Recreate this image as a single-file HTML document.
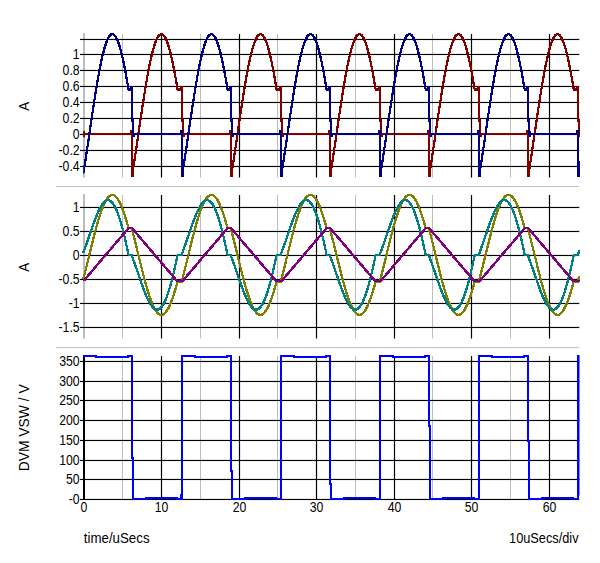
<!DOCTYPE html>
<html><head><meta charset="utf-8"><title>chart</title>
<style>
html,body{margin:0;padding:0;background:#fff;}
body{width:600px;height:563px;overflow:hidden;}
svg{display:block;}
svg text{font-family:"Liberation Sans",sans-serif;font-size:14.0px;fill:#000;}
</style></head><body>
<svg width="600" height="563" viewBox="0 0 600 563">
<rect width="600" height="563" fill="#fff"/>
<defs><clipPath id="c1"><rect x="83.4" y="0" width="496.6" height="563"/></clipPath><clipPath id="c3"><rect x="83" y="0" width="496.29999999999995" height="563"/></clipPath></defs>
<rect x="56" y="185.9" width="523.3" height="1.2" fill="#c6c6c6"/>
<rect x="56" y="346.9" width="523.3" height="1.2" fill="#c6c6c6"/>
<rect x="83" y="33" width="2" height="144.5" fill="#bcbcbc"/>
<rect x="122.00" y="34" width="1" height="143.5" fill="#bdbdbd"/>
<rect x="160.90" y="34" width="1.2" height="143.5" fill="#000"/>
<rect x="200.00" y="34" width="1" height="143.5" fill="#bdbdbd"/>
<rect x="238.90" y="34" width="1.2" height="143.5" fill="#000"/>
<rect x="277.00" y="34" width="1" height="143.5" fill="#bdbdbd"/>
<rect x="315.90" y="34" width="1.2" height="143.5" fill="#000"/>
<rect x="355.00" y="34" width="1" height="143.5" fill="#bdbdbd"/>
<rect x="393.90" y="34" width="1.2" height="143.5" fill="#000"/>
<rect x="432.00" y="34" width="1" height="143.5" fill="#bdbdbd"/>
<rect x="470.90" y="34" width="1.2" height="143.5" fill="#000"/>
<rect x="510.00" y="34" width="1" height="143.5" fill="#bdbdbd"/>
<rect x="548.90" y="34" width="1.2" height="143.5" fill="#000"/>
<rect x="80" y="38.9" width="499.29999999999995" height="1.15" fill="#000"/>
<rect x="80" y="53.9" width="499.29999999999995" height="1.15" fill="#000"/>
<text transform="translate(79.6,59.35) scale(0.875,1)" text-anchor="end">1</text>
<rect x="80" y="69.9" width="499.29999999999995" height="1.15" fill="#000"/>
<text transform="translate(79.6,75.35) scale(0.875,1)" text-anchor="end">0.8</text>
<rect x="80" y="85.9" width="499.29999999999995" height="1.15" fill="#000"/>
<text transform="translate(79.6,91.35) scale(0.875,1)" text-anchor="end">0.6</text>
<rect x="80" y="101.9" width="499.29999999999995" height="1.15" fill="#000"/>
<text transform="translate(79.6,107.35) scale(0.875,1)" text-anchor="end">0.4</text>
<rect x="80" y="117.9" width="499.29999999999995" height="1.15" fill="#000"/>
<text transform="translate(79.6,123.35) scale(0.875,1)" text-anchor="end">0.2</text>
<rect x="80" y="133.9" width="499.29999999999995" height="1.15" fill="#000"/>
<text transform="translate(79.6,139.35) scale(0.875,1)" text-anchor="end">0</text>
<rect x="80" y="149.9" width="499.29999999999995" height="1.15" fill="#000"/>
<text transform="translate(79.6,155.35) scale(0.875,1)" text-anchor="end">-0.2</text>
<rect x="80" y="165.9" width="499.29999999999995" height="1.15" fill="#000"/>
<text transform="translate(79.6,171.35) scale(0.875,1)" text-anchor="end">-0.4</text>
<rect x="83" y="194" width="2" height="144.5" fill="#bcbcbc"/>
<rect x="122.00" y="195" width="1" height="143.5" fill="#bdbdbd"/>
<rect x="160.90" y="195" width="1.2" height="143.5" fill="#000"/>
<rect x="200.00" y="195" width="1" height="143.5" fill="#bdbdbd"/>
<rect x="238.90" y="195" width="1.2" height="143.5" fill="#000"/>
<rect x="277.00" y="195" width="1" height="143.5" fill="#bdbdbd"/>
<rect x="315.90" y="195" width="1.2" height="143.5" fill="#000"/>
<rect x="355.00" y="195" width="1" height="143.5" fill="#bdbdbd"/>
<rect x="393.90" y="195" width="1.2" height="143.5" fill="#000"/>
<rect x="432.00" y="195" width="1" height="143.5" fill="#bdbdbd"/>
<rect x="470.90" y="195" width="1.2" height="143.5" fill="#000"/>
<rect x="510.00" y="195" width="1" height="143.5" fill="#bdbdbd"/>
<rect x="548.90" y="195" width="1.2" height="143.5" fill="#000"/>
<rect x="80" y="206.9" width="499.29999999999995" height="1.15" fill="#000"/>
<text transform="translate(79.6,212.35) scale(0.875,1)" text-anchor="end">1</text>
<rect x="80" y="230.9" width="499.29999999999995" height="1.15" fill="#000"/>
<text transform="translate(79.6,236.35) scale(0.875,1)" text-anchor="end">0.5</text>
<rect x="80" y="254.9" width="499.29999999999995" height="1.15" fill="#000"/>
<text transform="translate(79.6,260.35) scale(0.875,1)" text-anchor="end">0</text>
<rect x="80" y="278.9" width="499.29999999999995" height="1.15" fill="#000"/>
<text transform="translate(79.6,284.35) scale(0.875,1)" text-anchor="end">-0.5</text>
<rect x="80" y="302.9" width="499.29999999999995" height="1.15" fill="#000"/>
<text transform="translate(79.6,308.35) scale(0.875,1)" text-anchor="end">-1</text>
<rect x="80" y="326.9" width="499.29999999999995" height="1.15" fill="#000"/>
<text transform="translate(79.6,332.35) scale(0.875,1)" text-anchor="end">-1.5</text>
<rect x="122.00" y="356" width="1" height="143.5" fill="#bdbdbd"/>
<rect x="160.90" y="356" width="1.2" height="143.5" fill="#000"/>
<rect x="200.00" y="356" width="1" height="143.5" fill="#bdbdbd"/>
<rect x="238.90" y="356" width="1.2" height="143.5" fill="#000"/>
<rect x="277.00" y="356" width="1" height="143.5" fill="#bdbdbd"/>
<rect x="315.90" y="356" width="1.2" height="143.5" fill="#000"/>
<rect x="355.00" y="356" width="1" height="143.5" fill="#bdbdbd"/>
<rect x="393.90" y="356" width="1.2" height="143.5" fill="#000"/>
<rect x="432.00" y="356" width="1" height="143.5" fill="#bdbdbd"/>
<rect x="470.90" y="356" width="1.2" height="143.5" fill="#000"/>
<rect x="510.00" y="356" width="1" height="143.5" fill="#bdbdbd"/>
<rect x="548.90" y="356" width="1.2" height="143.5" fill="#000"/>
<rect x="80" y="360.9" width="499.29999999999995" height="1.15" fill="#000"/>
<text transform="translate(79.6,366.35) scale(0.875,1)" text-anchor="end">350</text>
<rect x="80" y="380.9" width="499.29999999999995" height="1.15" fill="#000"/>
<text transform="translate(79.6,386.35) scale(0.875,1)" text-anchor="end">300</text>
<rect x="80" y="399.9" width="499.29999999999995" height="1.15" fill="#000"/>
<text transform="translate(79.6,405.35) scale(0.875,1)" text-anchor="end">250</text>
<rect x="80" y="419.9" width="499.29999999999995" height="1.15" fill="#000"/>
<text transform="translate(79.6,425.35) scale(0.875,1)" text-anchor="end">200</text>
<rect x="80" y="439.9" width="499.29999999999995" height="1.15" fill="#000"/>
<text transform="translate(79.6,445.35) scale(0.875,1)" text-anchor="end">150</text>
<rect x="80" y="459.9" width="499.29999999999995" height="1.15" fill="#000"/>
<text transform="translate(79.6,465.35) scale(0.875,1)" text-anchor="end">100</text>
<rect x="80" y="478.9" width="499.29999999999995" height="1.15" fill="#000"/>
<text transform="translate(79.6,484.35) scale(0.875,1)" text-anchor="end">50</text>
<rect x="80" y="498.9" width="499.29999999999995" height="1.15" fill="#000"/>
<text transform="translate(79.6,504.35) scale(0.875,1)" text-anchor="end">-0</text>
<rect x="83.2" y="130.8" width="1.8" height="6.6" fill="#800000"/>
<g fill="none" stroke="#800000" stroke-width="1.1" stroke-linejoin="miter" stroke-linecap="square" shape-rendering="crispEdges" clip-path="url(#c1)">
<path id="w1" d="M82.0,134.0L131.3,134.0L131.3,130.8L131.8,130.8L131.8,175.6L132.5,175.6L132.5,173.1L133.0,169.9L133.5,166.7L134.0,163.5L134.5,160.2L135.0,156.9L135.5,153.6L136.0,150.2L136.5,146.8L137.0,143.4L137.5,140.0L138.0,136.6L138.5,133.2L139.0,129.8L139.5,126.4L140.0,123.0L140.5,119.6L141.0,116.3L141.5,112.9L142.0,109.6L142.5,106.3L143.0,103.0L143.5,99.8L144.0,96.6L144.5,93.5L145.0,90.4L145.5,87.3L146.0,84.4L146.5,81.4L147.0,78.6L147.5,75.7L148.0,73.0L148.5,70.3L149.0,67.8L149.5,65.2L150.0,62.8L150.5,60.5L151.0,58.2L151.5,56.0L152.0,53.9L152.5,52.0L153.0,50.1L153.5,48.3L154.0,46.6L154.5,45.0L155.0,43.5L155.5,42.1L156.0,40.8L156.5,39.7L157.0,38.6L157.5,37.7L158.0,36.8L158.5,36.1L159.0,35.5L159.5,35.0L160.0,34.7L160.5,34.4L161.0,34.3L161.5,34.2L162.0,34.3L162.5,34.5L163.0,34.9L163.5,35.3L164.0,35.9L164.5,36.5L165.0,37.3L165.5,38.2L166.0,39.2L166.5,40.4L167.0,41.6L167.5,42.9L168.0,44.4L168.5,45.9L169.0,47.6L169.5,49.3L170.0,51.2L170.5,53.1L171.0,55.2L171.5,57.3L172.0,59.5L172.5,61.9L173.0,64.3L173.5,66.7L174.0,69.3L174.5,71.9L175.0,74.6L175.5,77.4L176.0,80.3L176.5,83.2L177.0,86.1L177.5,89.2L177.6,89.5L181.1,89.5L181.1,86.7L181.9,86.7L181.9,120.5L183.0,120.5L183.3,134.0L183.5,136.4L184.1,136.4L184.1,134.0L230.4,134.0L230.4,134.0L230.4,130.8L230.9,130.8L230.9,175.6L231.6,175.6L231.6,173.1L232.1,169.9L232.6,166.7L233.1,163.5L233.6,160.2L234.1,156.9L234.6,153.6L235.1,150.2L235.6,146.8L236.1,143.4L236.6,140.0L237.1,136.6L237.6,133.2L238.1,129.8L238.6,126.4L239.1,123.0L239.6,119.6L240.1,116.3L240.6,112.9L241.1,109.6L241.6,106.3L242.1,103.0L242.6,99.8L243.1,96.6L243.6,93.5L244.1,90.4L244.6,87.3L245.1,84.4L245.6,81.4L246.1,78.6L246.6,75.7L247.1,73.0L247.6,70.3L248.1,67.8L248.6,65.2L249.1,62.8L249.6,60.5L250.1,58.2L250.6,56.0L251.1,53.9L251.6,52.0L252.1,50.1L252.6,48.3L253.1,46.6L253.6,45.0L254.1,43.5L254.6,42.1L255.1,40.8L255.6,39.7L256.1,38.6L256.6,37.7L257.1,36.8L257.6,36.1L258.1,35.5L258.6,35.0L259.1,34.7L259.6,34.4L260.1,34.3L260.6,34.2L261.1,34.3L261.6,34.5L262.1,34.9L262.6,35.3L263.1,35.9L263.6,36.5L264.1,37.3L264.6,38.2L265.1,39.2L265.6,40.4L266.1,41.6L266.6,42.9L267.1,44.4L267.6,45.9L268.1,47.6L268.6,49.3L269.1,51.2L269.6,53.1L270.1,55.2L270.6,57.3L271.1,59.5L271.6,61.9L272.1,64.3L272.6,66.7L273.1,69.3L273.6,71.9L274.1,74.6L274.6,77.4L275.1,80.3L275.6,83.2L276.1,86.1L276.6,89.2L276.6,89.5L280.2,89.5L280.2,86.7L280.9,86.7L280.9,120.5L282.1,120.5L282.4,134.0L282.6,136.4L283.2,136.4L283.2,134.0L329.4,134.0L329.4,134.0L329.4,130.8L329.9,130.8L329.9,175.6L330.6,175.6L330.6,173.1L331.1,169.9L331.6,166.7L332.1,163.5L332.6,160.2L333.1,156.9L333.6,153.6L334.1,150.2L334.6,146.8L335.1,143.4L335.6,140.0L336.1,136.6L336.6,133.2L337.1,129.8L337.6,126.4L338.1,123.0L338.6,119.6L339.1,116.3L339.6,112.9L340.1,109.6L340.6,106.3L341.1,103.0L341.6,99.8L342.1,96.6L342.6,93.5L343.1,90.4L343.6,87.3L344.1,84.4L344.6,81.4L345.1,78.6L345.6,75.7L346.1,73.0L346.6,70.3L347.1,67.8L347.6,65.2L348.1,62.8L348.6,60.5L349.1,58.2L349.6,56.0L350.1,53.9L350.6,52.0L351.1,50.1L351.6,48.3L352.1,46.6L352.6,45.0L353.1,43.5L353.6,42.1L354.1,40.8L354.6,39.7L355.1,38.6L355.6,37.7L356.1,36.8L356.6,36.1L357.1,35.5L357.6,35.0L358.1,34.7L358.6,34.4L359.1,34.3L359.6,34.2L360.1,34.3L360.6,34.5L361.1,34.9L361.6,35.3L362.1,35.9L362.6,36.5L363.1,37.3L363.6,38.2L364.1,39.2L364.6,40.4L365.1,41.6L365.6,42.9L366.1,44.4L366.6,45.9L367.1,47.6L367.6,49.3L368.1,51.2L368.6,53.1L369.1,55.2L369.6,57.3L370.1,59.5L370.6,61.9L371.1,64.3L371.6,66.7L372.1,69.3L372.6,71.9L373.1,74.6L373.6,77.4L374.1,80.3L374.6,83.2L375.1,86.1L375.6,89.2L375.7,89.5L379.2,89.5L379.2,86.7L380.0,86.7L380.0,120.5L381.1,120.5L381.4,134.0L381.6,136.4L382.2,136.4L382.2,134.0L428.5,134.0L428.4,134.0L428.4,130.8L428.9,130.8L428.9,175.6L429.6,175.6L429.6,173.1L430.1,169.9L430.6,166.7L431.1,163.5L431.6,160.2L432.1,156.9L432.6,153.6L433.1,150.2L433.6,146.8L434.1,143.4L434.6,140.0L435.1,136.6L435.6,133.2L436.1,129.8L436.6,126.4L437.1,123.0L437.6,119.6L438.1,116.3L438.6,112.9L439.1,109.6L439.6,106.3L440.1,103.0L440.6,99.8L441.1,96.6L441.6,93.5L442.1,90.4L442.6,87.3L443.1,84.4L443.6,81.4L444.1,78.6L444.6,75.7L445.1,73.0L445.6,70.3L446.1,67.8L446.6,65.2L447.1,62.8L447.6,60.5L448.1,58.2L448.6,56.0L449.1,53.9L449.6,52.0L450.1,50.1L450.6,48.3L451.1,46.6L451.6,45.0L452.1,43.5L452.6,42.1L453.1,40.8L453.6,39.7L454.1,38.6L454.6,37.7L455.1,36.8L455.6,36.1L456.1,35.5L456.6,35.0L457.1,34.7L457.6,34.4L458.1,34.3L458.6,34.2L459.1,34.3L459.6,34.5L460.1,34.9L460.6,35.3L461.1,35.9L461.6,36.5L462.1,37.3L462.6,38.2L463.1,39.2L463.6,40.4L464.1,41.6L464.6,42.9L465.1,44.4L465.6,45.9L466.1,47.6L466.6,49.3L467.1,51.2L467.6,53.1L468.1,55.2L468.6,57.3L469.1,59.5L469.6,61.9L470.1,64.3L470.6,66.7L471.1,69.3L471.6,71.9L472.1,74.6L472.6,77.4L473.1,80.3L473.6,83.2L474.1,86.1L474.6,89.2L474.7,89.5L478.2,89.5L478.2,86.7L479.0,86.7L479.0,120.5L480.1,120.5L480.4,134.0L480.6,136.4L481.2,136.4L481.2,134.0L527.5,134.0L527.5,134.0L527.5,130.8L528.0,130.8L528.0,175.6L528.7,175.6L528.7,173.1L529.2,169.9L529.7,166.7L530.2,163.5L530.7,160.2L531.2,156.9L531.7,153.6L532.2,150.2L532.7,146.8L533.2,143.4L533.7,140.0L534.2,136.6L534.7,133.2L535.2,129.8L535.7,126.4L536.2,123.0L536.7,119.6L537.2,116.3L537.7,112.9L538.2,109.6L538.7,106.3L539.2,103.0L539.7,99.8L540.2,96.6L540.7,93.5L541.2,90.4L541.7,87.3L542.2,84.4L542.7,81.4L543.2,78.6L543.7,75.7L544.2,73.0L544.7,70.3L545.2,67.8L545.7,65.2L546.2,62.8L546.7,60.5L547.2,58.2L547.7,56.0L548.2,53.9L548.7,52.0L549.2,50.1L549.7,48.3L550.2,46.6L550.7,45.0L551.2,43.5L551.7,42.1L552.2,40.8L552.7,39.7L553.2,38.6L553.7,37.7L554.2,36.8L554.7,36.1L555.2,35.5L555.7,35.0L556.2,34.7L556.7,34.4L557.2,34.3L557.7,34.2L558.2,34.3L558.7,34.5L559.2,34.9L559.7,35.3L560.2,35.9L560.7,36.5L561.2,37.3L561.7,38.2L562.2,39.2L562.7,40.4L563.2,41.6L563.7,42.9L564.2,44.4L564.7,45.9L565.2,47.6L565.7,49.3L566.2,51.2L566.7,53.1L567.2,55.2L567.7,57.3L568.2,59.5L568.7,61.9L569.2,64.3L569.7,66.7L570.2,69.3L570.7,71.9L571.2,74.6L571.7,77.4L572.2,80.3L572.7,83.2L573.2,86.1L573.7,89.2L573.8,89.5L577.3,89.5L577.3,86.7L578.1,86.7L578.1,120.5L579.2,120.5L579.5,134.0L579.7,136.4L580.3,136.4L580.3,134.0L626.5,134.0" transform="translate(-0.5,-0.5)"/>
<use href="#w1" transform="translate(1.0,0.0)"/>
<use href="#w1" transform="translate(0.0,1.0)"/>
<use href="#w1" transform="translate(1.0,1.0)"/>
</g>
<g fill="none" stroke="#000080" stroke-width="1.1" stroke-linejoin="miter" stroke-linecap="square" shape-rendering="crispEdges" clip-path="url(#c1)">
<path id="w2" d="M83.4,173.4L83.9,170.2L84.4,167.0L84.9,163.8L85.4,160.5L85.9,157.2L86.4,153.9L86.9,150.5L87.4,147.2L87.9,143.8L88.4,140.4L88.9,137.0L89.4,133.6L89.9,130.1L90.4,126.7L90.9,123.3L91.4,120.0L91.9,116.6L92.4,113.2L92.9,109.9L93.4,106.6L93.9,103.4L94.4,100.1L94.9,96.9L95.4,93.8L95.9,90.7L96.4,87.6L96.9,84.6L97.4,81.7L97.9,78.8L98.4,76.0L98.9,73.3L99.4,70.6L99.9,68.0L100.4,65.5L100.9,63.1L101.4,60.7L101.9,58.4L102.4,56.2L102.9,54.1L103.4,52.2L103.9,50.2L104.4,48.4L104.9,46.7L105.4,45.1L105.9,43.6L106.4,42.2L106.9,41.0L107.4,39.8L107.9,38.7L108.4,37.8L108.9,36.9L109.4,36.2L109.9,35.6L110.4,35.1L110.9,34.7L111.4,34.4L111.9,34.3L112.4,34.2L112.9,34.3L113.4,34.5L113.9,34.8L114.4,35.3L114.9,35.8L115.4,36.5L115.9,37.2L116.4,38.1L116.9,39.1L117.4,40.2L117.9,41.5L118.4,42.8L118.9,44.2L119.4,45.8L119.9,47.4L120.4,49.2L120.9,51.0L121.4,52.9L121.9,55.0L122.4,57.1L122.9,59.3L123.4,61.6L123.9,64.0L124.4,66.5L124.9,69.0L125.4,71.7L125.9,74.4L126.4,77.1L126.9,80.0L127.4,82.9L127.9,85.8L128.4,88.9L128.5,89.5L131.1,89.5L131.1,86.7L131.9,86.7L131.9,120.5L133.0,120.5L133.3,134.0L133.5,136.4L134.1,136.4L134.1,134.0L181.3,134.0L181.3,134.0L181.3,130.8L181.8,130.8L181.8,175.6L182.5,175.6L182.5,173.1L183.0,169.9L183.5,166.7L184.0,163.5L184.5,160.2L185.0,156.9L185.5,153.6L186.0,150.2L186.5,146.8L187.0,143.4L187.5,140.0L188.0,136.6L188.5,133.2L189.0,129.8L189.5,126.4L190.0,123.0L190.5,119.6L191.0,116.3L191.5,112.9L192.0,109.6L192.5,106.3L193.0,103.0L193.5,99.8L194.0,96.6L194.5,93.5L195.0,90.4L195.5,87.3L196.0,84.4L196.5,81.4L197.0,78.6L197.5,75.7L198.0,73.0L198.5,70.3L199.0,67.8L199.5,65.2L200.0,62.8L200.5,60.5L201.0,58.2L201.5,56.0L202.0,53.9L202.5,52.0L203.0,50.1L203.5,48.3L204.0,46.6L204.5,45.0L205.0,43.5L205.5,42.1L206.0,40.8L206.5,39.7L207.0,38.6L207.5,37.7L208.0,36.8L208.5,36.1L209.0,35.5L209.5,35.0L210.0,34.7L210.5,34.4L211.0,34.3L211.5,34.2L212.0,34.3L212.5,34.5L213.0,34.9L213.5,35.3L214.0,35.9L214.5,36.5L215.0,37.3L215.5,38.2L216.0,39.2L216.5,40.4L217.0,41.6L217.5,42.9L218.0,44.4L218.5,45.9L219.0,47.6L219.5,49.3L220.0,51.2L220.5,53.1L221.0,55.2L221.5,57.3L222.0,59.5L222.5,61.9L223.0,64.3L223.5,66.7L224.0,69.3L224.5,71.9L225.0,74.6L225.5,77.4L226.0,80.3L226.5,83.2L227.0,86.1L227.5,89.2L227.6,89.5L230.2,89.5L230.2,86.7L231.0,86.7L231.0,120.5L232.1,120.5L232.4,134.0L232.6,136.4L233.2,136.4L233.2,134.0L280.4,134.0L280.4,134.0L280.4,130.8L280.9,130.8L280.9,175.6L281.6,175.6L281.6,173.1L282.1,169.9L282.6,166.7L283.1,163.5L283.6,160.2L284.1,156.9L284.6,153.6L285.1,150.2L285.6,146.8L286.1,143.4L286.6,140.0L287.1,136.6L287.6,133.2L288.1,129.8L288.6,126.4L289.1,123.0L289.6,119.6L290.1,116.3L290.6,112.9L291.1,109.6L291.6,106.3L292.1,103.0L292.6,99.8L293.1,96.6L293.6,93.5L294.1,90.4L294.6,87.3L295.1,84.4L295.6,81.4L296.1,78.6L296.6,75.7L297.1,73.0L297.6,70.3L298.1,67.8L298.6,65.2L299.1,62.8L299.6,60.5L300.1,58.2L300.6,56.0L301.1,53.9L301.6,52.0L302.1,50.1L302.6,48.3L303.1,46.6L303.6,45.0L304.1,43.5L304.6,42.1L305.1,40.8L305.6,39.7L306.1,38.6L306.6,37.7L307.1,36.8L307.6,36.1L308.1,35.5L308.6,35.0L309.1,34.7L309.6,34.4L310.1,34.3L310.6,34.2L311.1,34.3L311.6,34.5L312.1,34.9L312.6,35.3L313.1,35.9L313.6,36.5L314.1,37.3L314.6,38.2L315.1,39.2L315.6,40.4L316.1,41.6L316.6,42.9L317.1,44.4L317.6,45.9L318.1,47.6L318.6,49.3L319.1,51.2L319.6,53.1L320.1,55.2L320.6,57.3L321.1,59.5L321.6,61.9L322.1,64.3L322.6,66.7L323.1,69.3L323.6,71.9L324.1,74.6L324.6,77.4L325.1,80.3L325.6,83.2L326.1,86.1L326.6,89.2L326.6,89.5L329.2,89.5L329.2,86.7L330.0,86.7L330.0,120.5L331.1,120.5L331.4,134.0L331.6,136.4L332.2,136.4L332.2,134.0L379.4,134.0L379.4,134.0L379.4,130.8L379.9,130.8L379.9,175.6L380.6,175.6L380.6,173.1L381.1,169.9L381.6,166.7L382.1,163.5L382.6,160.2L383.1,156.9L383.6,153.6L384.1,150.2L384.6,146.8L385.1,143.4L385.6,140.0L386.1,136.6L386.6,133.2L387.1,129.8L387.6,126.4L388.1,123.0L388.6,119.6L389.1,116.3L389.6,112.9L390.1,109.6L390.6,106.3L391.1,103.0L391.6,99.8L392.1,96.6L392.6,93.5L393.1,90.4L393.6,87.3L394.1,84.4L394.6,81.4L395.1,78.6L395.6,75.7L396.1,73.0L396.6,70.3L397.1,67.8L397.6,65.2L398.1,62.8L398.6,60.5L399.1,58.2L399.6,56.0L400.1,53.9L400.6,52.0L401.1,50.1L401.6,48.3L402.1,46.6L402.6,45.0L403.1,43.5L403.6,42.1L404.1,40.8L404.6,39.7L405.1,38.6L405.6,37.7L406.1,36.8L406.6,36.1L407.1,35.5L407.6,35.0L408.1,34.7L408.6,34.4L409.1,34.3L409.6,34.2L410.1,34.3L410.6,34.5L411.1,34.9L411.6,35.3L412.1,35.9L412.6,36.5L413.1,37.3L413.6,38.2L414.1,39.2L414.6,40.4L415.1,41.6L415.6,42.9L416.1,44.4L416.6,45.9L417.1,47.6L417.6,49.3L418.1,51.2L418.6,53.1L419.1,55.2L419.6,57.3L420.1,59.5L420.6,61.9L421.1,64.3L421.6,66.7L422.1,69.3L422.6,71.9L423.1,74.6L423.6,77.4L424.1,80.3L424.6,83.2L425.1,86.1L425.6,89.2L425.7,89.5L428.2,89.5L428.2,86.7L429.0,86.7L429.0,120.5L430.1,120.5L430.4,134.0L430.6,136.4L431.2,136.4L431.2,134.0L478.4,134.0L478.4,134.0L478.4,130.8L478.9,130.8L478.9,175.6L479.6,175.6L479.6,173.1L480.1,169.9L480.6,166.7L481.1,163.5L481.6,160.2L482.1,156.9L482.6,153.6L483.1,150.2L483.6,146.8L484.1,143.4L484.6,140.0L485.1,136.6L485.6,133.2L486.1,129.8L486.6,126.4L487.1,123.0L487.6,119.6L488.1,116.3L488.6,112.9L489.1,109.6L489.6,106.3L490.1,103.0L490.6,99.8L491.1,96.6L491.6,93.5L492.1,90.4L492.6,87.3L493.1,84.4L493.6,81.4L494.1,78.6L494.6,75.7L495.1,73.0L495.6,70.3L496.1,67.8L496.6,65.2L497.1,62.8L497.6,60.5L498.1,58.2L498.6,56.0L499.1,53.9L499.6,52.0L500.1,50.1L500.6,48.3L501.1,46.6L501.6,45.0L502.1,43.5L502.6,42.1L503.1,40.8L503.6,39.7L504.1,38.6L504.6,37.7L505.1,36.8L505.6,36.1L506.1,35.5L506.6,35.0L507.1,34.7L507.6,34.4L508.1,34.3L508.6,34.2L509.1,34.3L509.6,34.5L510.1,34.9L510.6,35.3L511.1,35.9L511.6,36.5L512.1,37.3L512.6,38.2L513.1,39.2L513.6,40.4L514.1,41.6L514.6,42.9L515.1,44.4L515.6,45.9L516.1,47.6L516.6,49.3L517.1,51.2L517.6,53.1L518.1,55.2L518.6,57.3L519.1,59.5L519.6,61.9L520.1,64.3L520.6,66.7L521.1,69.3L521.6,71.9L522.1,74.6L522.6,77.4L523.1,80.3L523.6,83.2L524.1,86.1L524.6,89.2L524.7,89.5L527.3,89.5L527.3,86.7L528.1,86.7L528.1,120.5L529.2,120.5L529.5,134.0L529.7,136.4L530.3,136.4L530.3,134.0L577.5,134.0L577.5,134.0L577.5,130.8L578.0,130.8L578.0,175.6L578.7,175.6L578.7,173.1L579.2,169.9L579.7,166.7L580.2,163.5L580.7,160.2L581.2,156.9L581.7,153.6L582.2,150.2L582.7,146.8L583.2,143.4L583.7,140.0L584.2,136.6L584.7,133.2L585.2,129.8L585.7,126.4L586.2,123.0L586.7,119.6L587.2,116.3L587.7,112.9L588.2,109.6L588.7,106.3L589.2,103.0L589.7,99.8L590.2,96.6L590.7,93.5L591.2,90.4L591.7,87.3L592.2,84.4L592.7,81.4L593.2,78.6L593.7,75.7L594.2,73.0L594.7,70.3L595.2,67.8L595.7,65.2L596.2,62.8L596.7,60.5L597.2,58.2L597.7,56.0L598.2,53.9L598.7,52.0L599.2,50.1L599.7,48.3L600.2,46.6L600.7,45.0L601.2,43.5L601.7,42.1L602.2,40.8L602.7,39.7L603.2,38.6L603.7,37.7L604.2,36.8L604.7,36.1L605.2,35.5L605.7,35.0L606.2,34.7L606.7,34.4L607.2,34.3L607.7,34.2L608.2,34.3L608.7,34.5L609.2,34.9L609.7,35.3L610.2,35.9L610.7,36.5L611.2,37.3L611.7,38.2L612.2,39.2L612.7,40.4L613.2,41.6L613.7,42.9L614.2,44.4L614.7,45.9L615.2,47.6L615.7,49.3L616.2,51.2L616.7,53.1L617.2,55.2L617.7,57.3L618.2,59.5L618.7,61.9L619.2,64.3L619.7,66.7L620.2,69.3L620.7,71.9L621.2,74.6L621.7,77.4L622.2,80.3L622.7,83.2L623.2,86.1L623.7,89.2L623.8,89.5L626.4,89.5L626.4,86.7L627.1,86.7L627.1,120.5L628.2,120.5L628.5,134.0L628.8,136.4L629.4,136.4L629.4,134.0L676.5,134.0" transform="translate(-0.5,-0.5)"/>
<use href="#w2" transform="translate(1.0,0.0)"/>
<use href="#w2" transform="translate(0.0,1.0)"/>
<use href="#w2" transform="translate(1.0,1.0)"/>
</g>
<g fill="none" stroke="#808000" stroke-width="1.1" stroke-linejoin="miter" stroke-linecap="square" shape-rendering="crispEdges">
<path id="w3" d="M83.6,277.8L84.1,275.9L84.6,274.0L85.1,272.0L85.6,270.1L86.1,268.1L86.6,266.1L87.1,264.0L87.6,262.0L88.1,260.0L88.6,257.9L89.1,255.9L89.6,253.8L90.1,251.8L90.6,249.7L91.1,247.7L91.6,245.6L92.1,243.6L92.6,241.6L93.1,239.6L93.6,237.6L94.1,235.7L94.6,233.8L95.1,231.9L95.6,230.0L96.1,228.1L96.6,226.3L97.1,224.5L97.6,222.8L98.1,221.1L98.6,219.4L99.1,217.7L99.6,216.2L100.1,214.6L100.6,213.1L101.1,211.7L101.6,210.3L102.1,208.9L102.6,207.6L103.1,206.4L103.6,205.2L104.1,204.1L104.6,203.0L105.1,202.0L105.6,201.1L106.1,200.2L106.6,199.4L107.1,198.7L107.6,198.0L108.1,197.4L108.6,196.8L109.1,196.3L109.6,195.9L110.1,195.6L110.6,195.3L111.1,195.1L111.6,195.0L112.1,194.9L112.6,194.9L113.1,195.0L113.6,195.1L114.1,195.4L114.6,195.7L115.1,196.0L115.6,196.4L116.1,196.9L116.6,197.5L117.1,198.1L117.6,198.8L118.1,199.6L118.6,200.4L119.1,201.3L119.6,202.2L120.1,203.2L120.6,204.3L121.1,205.5L121.6,206.6L122.1,207.9L122.6,209.2L123.1,210.5L123.6,212.0L124.1,213.4L124.6,214.9L125.1,216.5L125.6,218.1L126.1,219.7L126.6,221.4L127.1,223.1L127.6,224.9L128.1,226.7L128.6,228.1L129.1,228.1L129.6,228.1L130.1,228.1L130.6,228.1L131.1,228.1L131.6,228.1L132.1,229.9L132.6,231.8L133.1,233.7L133.6,235.6L134.1,237.6L134.6,239.5L135.1,241.5L135.6,243.5L136.1,245.6L136.6,247.6L137.1,249.6L137.6,251.7L138.1,253.7L138.6,255.8L139.1,257.8L139.6,259.9L140.1,261.9L140.6,264.0L141.1,266.0L141.6,268.0L142.1,270.0L142.6,272.0L143.1,273.9L143.6,275.8L144.1,277.8L144.6,279.6L145.1,281.5L145.6,283.3L146.1,285.1L146.6,286.9L147.1,288.6L147.6,290.3L148.1,291.9L148.6,293.5L149.1,295.0L149.6,296.5L150.1,298.0L150.6,299.4L151.1,300.7L151.6,302.0L152.1,303.3L152.6,304.5L153.1,305.6L153.6,306.7L154.1,307.7L154.6,308.6L155.1,309.5L155.6,310.3L156.1,311.1L156.6,311.8L157.1,312.4L157.6,312.9L158.1,313.4L158.6,313.8L159.1,314.2L159.6,314.5L160.1,314.7L160.6,314.8L161.1,314.9L161.6,314.9L162.1,314.8L162.6,314.7L163.1,314.5L163.6,314.2L164.1,313.8L164.6,313.4L165.1,312.9L165.6,312.4L166.1,311.8L166.6,311.1L167.1,310.3L167.6,309.5L168.1,308.6L168.6,307.7L169.1,306.7L169.6,305.6L170.1,304.5L170.6,303.3L171.1,302.0L171.6,300.7L172.1,299.4L172.6,298.0L173.1,296.5L173.6,295.0L174.1,293.5L174.6,291.9L175.1,290.3L175.6,288.6L176.1,286.9L176.6,285.1L177.1,283.3L177.6,281.7L178.1,281.7L178.6,281.7L179.1,281.7L179.6,281.7L180.1,281.7L180.6,281.7L181.1,281.7L181.6,281.7L182.1,279.9L182.6,278.0L183.1,276.1L183.6,274.2L184.1,272.2L184.6,270.3L185.1,268.3L185.6,266.3L186.1,264.2L186.6,262.2L187.1,260.2L187.6,258.1L188.1,256.1L188.6,254.0L189.1,252.0L189.6,249.9L190.1,247.9L190.6,245.8L191.1,243.8L191.6,241.8L192.1,239.8L192.6,237.8L193.1,235.9L193.6,234.0L194.1,232.0L194.6,230.2L195.1,228.3L195.6,226.5L196.1,224.7L196.6,222.9L197.1,221.2L197.6,219.5L198.1,217.9L198.6,216.3L199.1,214.8L199.6,213.3L200.1,211.8L200.6,210.4L201.1,209.1L201.6,207.8L202.1,206.5L202.6,205.3L203.1,204.2L203.6,203.1L204.1,202.1L204.6,201.2L205.1,200.3L205.6,199.5L206.1,198.7L206.6,198.0L207.1,197.4L207.6,196.9L208.1,196.4L208.6,196.0L209.1,195.6L209.6,195.3L210.1,195.1L210.6,195.0L211.1,194.9L211.6,194.9L212.1,195.0L212.6,195.1L213.1,195.3L213.6,195.6L214.1,196.0L214.6,196.4L215.1,196.9L215.6,197.4L216.1,198.0L216.6,198.7L217.1,199.5L217.6,200.3L218.1,201.2L218.6,202.1L219.1,203.1L219.6,204.2L220.1,205.3L220.6,206.5L221.1,207.8L221.6,209.1L222.1,210.4L222.6,211.8L223.1,213.3L223.6,214.8L224.1,216.3L224.6,217.9L225.1,219.5L225.6,221.2L226.1,222.9L226.6,224.7L227.1,226.5L227.6,228.1L228.1,228.1L228.6,228.1L229.1,228.1L229.6,228.1L230.1,228.1L230.6,228.1L231.1,229.7L231.6,231.6L232.1,233.5L232.6,235.4L233.1,237.4L233.6,239.3L234.1,241.3L234.6,243.3L235.1,245.4L235.6,247.4L236.1,249.4L236.6,251.5L237.1,253.5L237.6,255.6L238.1,257.6L238.6,259.7L239.1,261.7L239.6,263.8L240.1,265.8L240.6,267.8L241.1,269.8L241.6,271.8L242.1,273.7L242.6,275.7L243.1,277.6L243.6,279.5L244.1,281.3L244.6,283.1L245.1,284.9L245.6,286.7L246.1,288.4L246.6,290.1L247.1,291.7L247.6,293.3L248.1,294.9L248.6,296.4L249.1,297.8L249.6,299.3L250.1,300.6L250.6,301.9L251.1,303.2L251.6,304.3L252.1,305.5L252.6,306.6L253.1,307.6L253.6,308.5L254.1,309.4L254.6,310.2L255.1,311.0L255.6,311.7L256.1,312.3L256.6,312.9L257.1,313.4L257.6,313.8L258.1,314.1L258.6,314.4L259.1,314.7L259.6,314.8L260.1,314.9L260.6,314.9L261.1,314.8L261.6,314.7L262.1,314.5L262.6,314.2L263.1,313.9L263.6,313.5L264.1,313.0L264.6,312.4L265.1,311.8L265.6,311.1L266.1,310.4L266.6,309.6L267.1,308.7L267.6,307.8L268.1,306.8L268.6,305.7L269.1,304.6L269.6,303.4L270.1,302.2L270.6,300.9L271.1,299.5L271.6,298.1L272.1,296.7L272.6,295.2L273.1,293.6L273.6,292.1L274.1,290.4L274.6,288.7L275.1,287.0L275.6,285.3L276.1,283.5L276.6,281.7L277.1,281.7L277.6,281.7L278.1,281.7L278.6,281.7L279.1,281.7L279.6,281.7L280.1,281.7L280.6,281.7L281.1,280.1L281.6,278.2L282.1,276.3L282.6,274.4L283.1,272.4L283.6,270.5L284.1,268.5L284.6,266.5L285.1,264.4L285.6,262.4L286.1,260.4L286.6,258.3L287.1,256.3L287.6,254.2L288.1,252.2L288.6,250.1L289.1,248.1L289.6,246.0L290.1,244.0L290.6,242.0L291.1,240.0L291.6,238.0L292.1,236.1L292.6,234.1L293.1,232.2L293.6,230.3L294.1,228.5L294.6,226.7L295.1,224.9L295.6,223.1L296.1,221.4L296.6,219.7L297.1,218.1L297.6,216.5L298.1,214.9L298.6,213.4L299.1,212.0L299.6,210.5L300.1,209.2L300.6,207.9L301.1,206.6L301.6,205.5L302.1,204.3L302.6,203.2L303.1,202.2L303.6,201.3L304.1,200.4L304.6,199.6L305.1,198.8L305.6,198.1L306.1,197.5L306.6,196.9L307.1,196.4L307.6,196.0L308.1,195.7L308.6,195.4L309.1,195.1L309.6,195.0L310.1,194.9L310.6,194.9L311.1,195.0L311.6,195.1L312.1,195.3L312.6,195.6L313.1,195.9L313.6,196.3L314.1,196.8L314.6,197.4L315.1,198.0L315.6,198.7L316.1,199.4L316.6,200.2L317.1,201.1L317.6,202.0L318.1,203.0L318.6,204.1L319.1,205.2L319.6,206.4L320.1,207.6L320.6,208.9L321.1,210.3L321.6,211.7L322.1,213.1L322.6,214.6L323.1,216.2L323.6,217.7L324.1,219.4L324.6,221.1L325.1,222.8L325.6,224.5L326.1,226.3L326.6,228.1L327.1,228.1L327.6,228.1L328.1,228.1L328.6,228.1L329.1,228.1L329.6,228.1L330.1,229.5L330.6,231.4L331.1,233.3L331.6,235.2L332.1,237.2L332.6,239.1L333.1,241.1L333.6,243.1L334.1,245.2L334.6,247.2L335.1,249.2L335.6,251.3L336.1,253.3L336.6,255.4L337.1,257.4L337.6,259.5L338.1,261.5L338.6,263.5L339.1,265.6L339.6,267.6L340.1,269.6L340.6,271.6L341.1,273.5L341.6,275.5L342.1,277.4L342.6,279.3L343.1,281.1L343.6,283.0L344.1,284.8L344.6,286.5L345.1,288.2L345.6,289.9L346.1,291.6L346.6,293.2L347.1,294.7L347.6,296.2L348.1,297.7L348.6,299.1L349.1,300.5L349.6,301.8L350.1,303.0L350.6,304.2L351.1,305.4L351.6,306.4L352.1,307.5L352.6,308.4L353.1,309.3L353.6,310.2L354.1,310.9L354.6,311.6L355.1,312.3L355.6,312.8L356.1,313.3L356.6,313.8L357.1,314.1L357.6,314.4L358.1,314.6L358.6,314.8L359.1,314.9L359.6,314.9L360.1,314.8L360.6,314.7L361.1,314.5L361.6,314.2L362.1,313.9L362.6,313.5L363.1,313.0L363.6,312.5L364.1,311.9L364.6,311.2L365.1,310.5L365.6,309.7L366.1,308.8L366.6,307.9L367.1,306.9L367.6,305.8L368.1,304.7L368.6,303.5L369.1,302.3L369.6,301.0L370.1,299.7L370.6,298.3L371.1,296.8L371.6,295.3L372.1,293.8L372.6,292.2L373.1,290.6L373.6,288.9L374.1,287.2L374.6,285.5L375.1,283.7L375.6,281.9L376.1,281.7L376.6,281.7L377.1,281.7L377.6,281.7L378.1,281.7L378.6,281.7L379.1,281.7L379.6,281.7L380.1,280.3L380.6,278.4L381.1,276.5L381.6,274.6L382.1,272.6L382.6,270.7L383.1,268.7L383.6,266.7L384.1,264.6L384.6,262.6L385.1,260.6L385.6,258.5L386.1,256.5L386.6,254.4L387.1,252.4L387.6,250.3L388.1,248.3L388.6,246.3L389.1,244.2L389.6,242.2L390.1,240.2L390.6,238.2L391.1,236.3L391.6,234.3L392.1,232.4L392.6,230.5L393.1,228.7L393.6,226.8L394.1,225.0L394.6,223.3L395.1,221.6L395.6,219.9L396.1,218.2L396.6,216.6L397.1,215.1L397.6,213.6L398.1,212.1L398.6,210.7L399.1,209.3L399.6,208.0L400.1,206.8L400.6,205.6L401.1,204.4L401.6,203.4L402.1,202.3L402.6,201.4L403.1,200.5L403.6,199.6L404.1,198.9L404.6,198.2L405.1,197.5L405.6,197.0L406.1,196.5L406.6,196.0L407.1,195.7L407.6,195.4L408.1,195.2L408.6,195.0L409.1,194.9L409.6,194.9L410.1,195.0L410.6,195.1L411.1,195.3L411.6,195.6L412.1,195.9L412.6,196.3L413.1,196.8L413.6,197.3L414.1,197.9L414.6,198.6L415.1,199.3L415.6,200.1L416.1,201.0L416.6,201.9L417.1,202.9L417.6,204.0L418.1,205.1L418.6,206.3L419.1,207.5L419.6,208.8L420.1,210.1L420.6,211.5L421.1,213.0L421.6,214.5L422.1,216.0L422.6,217.6L423.1,219.2L423.6,220.9L424.1,222.6L424.6,224.3L425.1,226.1L425.6,227.9L426.1,228.1L426.6,228.1L427.1,228.1L427.6,228.1L428.1,228.1L428.6,228.1L429.1,228.1L429.6,231.2L430.1,233.1L430.6,235.0L431.1,237.0L431.6,238.9L432.1,240.9L432.6,242.9L433.1,245.0L433.6,247.0L434.1,249.0L434.6,251.1L435.1,253.1L435.6,255.2L436.1,257.2L436.6,259.3L437.1,261.3L437.6,263.3L438.1,265.4L438.6,267.4L439.1,269.4L439.6,271.4L440.1,273.3L440.6,275.3L441.1,277.2L441.6,279.1L442.1,280.9L442.6,282.8L443.1,284.6L443.6,286.3L444.1,288.1L444.6,289.8L445.1,291.4L445.6,293.0L446.1,294.6L446.6,296.1L447.1,297.6L447.6,299.0L448.1,300.3L448.6,301.7L449.1,302.9L449.6,304.1L450.1,305.3L450.6,306.3L451.1,307.4L451.6,308.3L452.1,309.2L452.6,310.1L453.1,310.8L453.6,311.6L454.1,312.2L454.6,312.8L455.1,313.3L455.6,313.7L456.1,314.1L456.6,314.4L457.1,314.6L457.6,314.8L458.1,314.9L458.6,314.9L459.1,314.8L459.6,314.7L460.1,314.5L460.6,314.3L461.1,313.9L461.6,313.5L462.1,313.1L462.6,312.5L463.1,311.9L463.6,311.3L464.1,310.5L464.6,309.7L465.1,308.9L465.6,308.0L466.1,307.0L466.6,305.9L467.1,304.8L467.6,303.6L468.1,302.4L468.6,301.1L469.1,299.8L469.6,298.4L470.1,297.0L470.6,295.5L471.1,294.0L471.6,292.4L472.1,290.8L472.6,289.1L473.1,287.4L473.6,285.6L474.1,283.9L474.6,282.0L475.1,281.7L475.6,281.7L476.1,281.7L476.6,281.7L477.1,281.7L477.6,281.7L478.1,281.7L478.6,281.7L479.1,281.7L479.6,278.6L480.1,276.7L480.6,274.8L481.1,272.8L481.6,270.9L482.1,268.9L482.6,266.9L483.1,264.8L483.6,262.8L484.1,260.8L484.6,258.7L485.1,256.7L485.6,254.6L486.1,252.6L486.6,250.5L487.1,248.5L487.6,246.5L488.1,244.4L488.6,242.4L489.1,240.4L489.6,238.4L490.1,236.5L490.6,234.5L491.1,232.6L491.6,230.7L492.1,228.9L492.6,227.0L493.1,225.2L493.6,223.5L494.1,221.7L494.6,220.0L495.1,218.4L495.6,216.8L496.1,215.2L496.6,213.7L497.1,212.2L497.6,210.8L498.1,209.5L498.6,208.1L499.1,206.9L499.6,205.7L500.1,204.5L500.6,203.5L501.1,202.4L501.6,201.5L502.1,200.6L502.6,199.7L503.1,199.0L503.6,198.2L504.1,197.6L504.6,197.0L505.1,196.5L505.6,196.1L506.1,195.7L506.6,195.4L507.1,195.2L507.6,195.0L508.1,194.9L508.6,194.9L509.1,195.0L509.6,195.1L510.1,195.3L510.6,195.5L511.1,195.9L511.6,196.3L512.1,196.7L512.6,197.3L513.1,197.9L513.6,198.5L514.1,199.3L514.6,200.1L515.1,200.9L515.6,201.8L516.1,202.8L516.6,203.9L517.1,205.0L517.6,206.2L518.1,207.4L518.6,208.7L519.1,210.0L519.6,211.4L520.1,212.8L520.6,214.3L521.1,215.8L521.6,217.4L522.1,219.0L522.6,220.7L523.1,222.4L523.6,224.2L524.1,225.9L524.6,227.8L525.1,228.1L525.6,228.1L526.1,228.1L526.6,228.1L527.1,228.1L527.6,228.1L528.1,228.1L528.6,231.0L529.1,232.9L529.6,234.8L530.1,236.8L530.6,238.7L531.1,240.7L531.6,242.7L532.1,244.8L532.6,246.8L533.1,248.8L533.6,250.9L534.1,252.9L534.6,255.0L535.1,257.0L535.6,259.1L536.1,261.1L536.6,263.1L537.1,265.2L537.6,267.2L538.1,269.2L538.6,271.2L539.1,273.1L539.6,275.1L540.1,277.0L540.6,278.9L541.1,280.8L541.6,282.6L542.1,284.4L542.6,286.2L543.1,287.9L543.6,289.6L544.1,291.2L544.6,292.9L545.1,294.4L545.6,295.9L546.1,297.4L546.6,298.8L547.1,300.2L547.6,301.5L548.1,302.8L548.6,304.0L549.1,305.1L549.6,306.2L550.1,307.3L550.6,308.2L551.1,309.1L551.6,310.0L552.1,310.8L552.6,311.5L553.1,312.1L553.6,312.7L554.1,313.2L554.6,313.7L555.1,314.0L555.6,314.4L556.1,314.6L556.6,314.8L557.1,314.9L557.6,314.9L558.1,314.8L558.6,314.7L559.1,314.6L559.6,314.3L560.1,314.0L560.6,313.6L561.1,313.1L561.6,312.6L562.1,312.0L562.6,311.3L563.1,310.6L563.6,309.8L564.1,309.0L564.6,308.0L565.1,307.1L565.6,306.0L566.1,304.9L566.6,303.8L567.1,302.5L567.6,301.3L568.1,299.9L568.6,298.6L569.1,297.1L569.6,295.6L570.1,294.1L570.6,292.5L571.1,290.9L571.6,289.3L572.1,287.6L572.6,285.8L573.1,284.0L573.6,282.2L574.1,281.7L574.6,281.7L575.1,281.7L575.6,281.7L576.1,281.7L576.6,281.7L577.1,281.7L577.6,281.7L578.1,281.7L578.6,278.8L579.1,276.9" transform="translate(-0.5,-0.5)"/>
<use href="#w3" transform="translate(1.0,0.0)"/>
<use href="#w3" transform="translate(0.0,1.0)"/>
<use href="#w3" transform="translate(1.0,1.0)"/>
</g>
<g fill="none" stroke="#008080" stroke-width="1.1" stroke-linejoin="miter" stroke-linecap="square" shape-rendering="crispEdges">
<path id="w4" d="M83.6,251.8L84.1,250.5L84.6,249.2L85.1,247.8L85.6,246.4L86.1,245.0L86.6,243.6L87.1,242.1L87.6,240.7L88.1,239.2L88.6,237.8L89.1,236.3L89.6,234.9L90.1,233.4L90.6,231.9L91.1,230.5L91.6,229.0L92.1,227.6L92.6,226.2L93.1,224.8L93.6,223.4L94.1,222.0L94.6,220.7L95.1,219.4L95.6,218.1L96.1,216.8L96.6,215.6L97.1,214.4L97.6,213.2L98.1,212.1L98.6,211.0L99.1,210.0L99.6,209.0L100.1,208.0L100.6,207.1L101.1,206.2L101.6,205.4L102.1,204.7L102.6,204.0L103.1,203.3L103.6,202.7L104.1,202.2L104.6,201.7L105.1,201.3L105.6,201.0L106.1,200.7L106.6,200.4L107.1,200.3L107.6,200.2L108.1,200.2L108.6,200.2L109.1,200.3L109.6,200.5L110.1,200.7L110.6,201.0L111.1,201.4L111.6,201.9L112.1,202.4L112.6,203.0L113.1,203.7L113.6,204.4L114.1,205.2L114.6,206.1L115.1,207.0L115.6,208.0L116.1,209.1L116.6,210.3L117.1,211.5L117.6,212.8L118.1,214.1L118.6,215.5L119.1,217.0L119.6,218.5L120.1,220.1L120.6,221.8L121.1,223.5L121.6,225.3L122.1,227.1L122.6,229.0L123.1,231.0L123.6,233.0L124.1,235.0L124.6,237.1L125.1,239.2L125.6,241.4L126.1,243.7L126.6,245.9L127.1,248.2L127.6,250.6L128.1,253.0L128.6,254.9L129.1,254.9L129.6,254.9L130.1,254.9L130.6,254.9L131.1,254.9L131.6,254.9L132.1,256.5L132.6,257.8L133.1,259.2L133.6,260.5L134.1,261.9L134.6,263.3L135.1,264.7L135.6,266.1L136.1,267.5L136.6,269.0L137.1,270.4L137.6,271.9L138.1,273.3L138.6,274.8L139.1,276.3L139.6,277.7L140.1,279.2L140.6,280.6L141.1,282.0L141.6,283.5L142.1,284.9L142.6,286.3L143.1,287.6L143.6,289.0L144.1,290.3L144.6,291.6L145.1,292.9L145.6,294.1L146.1,295.3L146.6,296.5L147.1,297.6L147.6,298.7L148.1,299.7L148.6,300.7L149.1,301.7L149.6,302.6L150.1,303.5L150.6,304.3L151.1,305.1L151.6,305.8L152.1,306.4L152.6,307.0L153.1,307.6L153.6,308.0L154.1,308.5L154.6,308.8L155.1,309.1L155.6,309.3L156.1,309.5L156.6,309.6L157.1,309.6L157.6,309.6L158.1,309.5L158.6,309.3L159.1,309.1L159.6,308.8L160.1,308.4L160.6,308.0L161.1,307.4L161.6,306.9L162.1,306.2L162.6,305.5L163.1,304.7L163.6,303.8L164.1,302.9L164.6,301.9L165.1,300.8L165.6,299.7L166.1,298.4L166.6,297.2L167.1,295.8L167.6,294.4L168.1,292.9L168.6,291.4L169.1,289.8L169.6,288.2L170.1,286.5L170.6,284.7L171.1,282.9L171.6,281.0L172.1,279.0L172.6,277.0L173.1,275.0L173.6,272.9L174.1,270.8L174.6,268.6L175.1,266.4L175.6,264.1L176.1,261.8L176.6,259.5L177.1,257.1L177.6,254.9L178.1,254.9L178.6,254.9L179.1,254.9L179.6,254.9L180.1,254.9L180.6,254.9L181.1,254.9L181.6,254.9L182.1,253.3L182.6,252.0L183.1,250.6L183.6,249.3L184.1,247.9L184.6,246.5L185.1,245.1L185.6,243.7L186.1,242.3L186.6,240.8L187.1,239.4L187.6,237.9L188.1,236.5L188.6,235.0L189.1,233.5L189.6,232.1L190.1,230.6L190.6,229.2L191.1,227.8L191.6,226.3L192.1,224.9L192.6,223.5L193.1,222.2L193.6,220.8L194.1,219.5L194.6,218.2L195.1,216.9L195.6,215.7L196.1,214.5L196.6,213.3L197.1,212.2L197.6,211.1L198.1,210.1L198.6,209.1L199.1,208.1L199.6,207.2L200.1,206.3L200.6,205.5L201.1,204.7L201.6,204.0L202.1,203.4L202.6,202.8L203.1,202.2L203.6,201.8L204.1,201.3L204.6,201.0L205.1,200.7L205.6,200.5L206.1,200.3L206.6,200.2L207.1,200.2L207.6,200.2L208.1,200.3L208.6,200.5L209.1,200.7L209.6,201.0L210.1,201.4L210.6,201.8L211.1,202.4L211.6,202.9L212.1,203.6L212.6,204.3L213.1,205.1L213.6,206.0L214.1,206.9L214.6,207.9L215.1,209.0L215.6,210.1L216.1,211.4L216.6,212.6L217.1,214.0L217.6,215.4L218.1,216.9L218.6,218.4L219.1,220.0L219.6,221.6L220.1,223.3L220.6,225.1L221.1,226.9L221.6,228.8L222.1,230.8L222.6,232.8L223.1,234.8L223.6,236.9L224.1,239.0L224.6,241.2L225.1,243.4L225.6,245.7L226.1,248.0L226.6,250.3L227.1,252.7L227.6,254.9L228.1,254.9L228.6,254.9L229.1,254.9L229.6,254.9L230.1,254.9L230.6,254.9L231.1,256.4L231.6,257.7L232.1,259.0L232.6,260.4L233.1,261.7L233.6,263.1L234.1,264.5L234.6,265.9L235.1,267.4L235.6,268.8L236.1,270.3L236.6,271.7L237.1,273.2L237.6,274.6L238.1,276.1L238.6,277.6L239.1,279.0L239.6,280.5L240.1,281.9L240.6,283.3L241.1,284.7L241.6,286.1L242.1,287.5L242.6,288.8L243.1,290.2L243.6,291.5L244.1,292.7L244.6,294.0L245.1,295.2L245.6,296.4L246.1,297.5L246.6,298.6L247.1,299.6L247.6,300.6L248.1,301.6L248.6,302.5L249.1,303.4L249.6,304.2L250.1,305.0L250.6,305.7L251.1,306.4L251.6,307.0L252.1,307.5L252.6,308.0L253.1,308.4L253.6,308.8L254.1,309.1L254.6,309.3L255.1,309.5L255.6,309.6L256.1,309.6L256.6,309.6L257.1,309.5L257.6,309.4L258.1,309.1L258.6,308.8L259.1,308.5L259.6,308.0L260.1,307.5L260.6,306.9L261.1,306.3L261.6,305.6L262.1,304.8L262.6,303.9L263.1,303.0L263.6,302.0L264.1,300.9L264.6,299.8L265.1,298.6L265.6,297.3L266.1,296.0L266.6,294.6L267.1,293.1L267.6,291.6L268.1,290.0L268.6,288.3L269.1,286.6L269.6,284.9L270.1,283.0L270.6,281.2L271.1,279.2L271.6,277.2L272.1,275.2L272.6,273.1L273.1,271.0L273.6,268.8L274.1,266.6L274.6,264.3L275.1,262.0L275.6,259.7L276.1,257.3L276.6,254.9L277.1,254.9L277.6,254.9L278.1,254.9L278.6,254.9L279.1,254.9L279.6,254.9L280.1,254.9L280.6,254.9L281.1,253.4L281.6,252.1L282.1,250.8L282.6,249.4L283.1,248.1L283.6,246.7L284.1,245.3L284.6,243.9L285.1,242.4L285.6,241.0L286.1,239.5L286.6,238.1L287.1,236.6L287.6,235.2L288.1,233.7L288.6,232.2L289.1,230.8L289.6,229.3L290.1,227.9L290.6,226.5L291.1,225.1L291.6,223.7L292.1,222.3L292.6,221.0L293.1,219.6L293.6,218.3L294.1,217.1L294.6,215.8L295.1,214.6L295.6,213.4L296.1,212.3L296.6,211.2L297.1,210.2L297.6,209.2L298.1,208.2L298.6,207.3L299.1,206.4L299.6,205.6L300.1,204.8L300.6,204.1L301.1,203.4L301.6,202.8L302.1,202.3L302.6,201.8L303.1,201.4L303.6,201.0L304.1,200.7L304.6,200.5L305.1,200.3L305.6,200.2L306.1,200.2L306.6,200.2L307.1,200.3L307.6,200.4L308.1,200.7L308.6,201.0L309.1,201.3L309.6,201.8L310.1,202.3L310.6,202.9L311.1,203.5L311.6,204.2L312.1,205.0L312.6,205.9L313.1,206.8L313.6,207.8L314.1,208.9L314.6,210.0L315.1,211.2L315.6,212.5L316.1,213.8L316.6,215.2L317.1,216.7L317.6,218.2L318.1,219.8L318.6,221.5L319.1,223.2L319.6,224.9L320.1,226.8L320.6,228.6L321.1,230.6L321.6,232.6L322.1,234.6L322.6,236.7L323.1,238.8L323.6,241.0L324.1,243.2L324.6,245.5L325.1,247.8L325.6,250.1L326.1,252.5L326.6,254.9L327.1,254.9L327.6,254.9L328.1,254.9L328.6,254.9L329.1,254.9L329.6,254.9L330.1,256.3L330.6,257.6L331.1,258.9L331.6,260.2L332.1,261.6L332.6,263.0L333.1,264.4L333.6,265.8L334.1,267.2L334.6,268.7L335.1,270.1L335.6,271.6L336.1,273.0L336.6,274.5L337.1,276.0L337.6,277.4L338.1,278.9L338.6,280.3L339.1,281.8L339.6,283.2L340.1,284.6L340.6,286.0L341.1,287.4L341.6,288.7L342.1,290.0L342.6,291.3L343.1,292.6L343.6,293.9L344.1,295.1L344.6,296.2L345.1,297.4L345.6,298.5L346.1,299.5L346.6,300.5L347.1,301.5L347.6,302.4L348.1,303.3L348.6,304.1L349.1,304.9L349.6,305.6L350.1,306.3L350.6,306.9L351.1,307.5L351.6,307.9L352.1,308.4L352.6,308.7L353.1,309.1L353.6,309.3L354.1,309.5L354.6,309.6L355.1,309.6L355.6,309.6L356.1,309.5L356.6,309.4L357.1,309.2L357.6,308.9L358.1,308.5L358.6,308.1L359.1,307.6L359.6,307.0L360.1,306.3L360.6,305.6L361.1,304.8L361.6,304.0L362.1,303.1L362.6,302.1L363.1,301.0L363.6,299.9L364.1,298.7L364.6,297.4L365.1,296.1L365.6,294.7L366.1,293.2L366.6,291.7L367.1,290.1L367.6,288.5L368.1,286.8L368.6,285.0L369.1,283.2L369.6,281.3L370.1,279.4L370.6,277.4L371.1,275.4L371.6,273.3L372.1,271.2L372.6,269.0L373.1,266.8L373.6,264.6L374.1,262.3L374.6,259.9L375.1,257.6L375.6,255.2L376.1,254.9L376.6,254.9L377.1,254.9L377.6,254.9L378.1,254.9L378.6,254.9L379.1,254.9L379.6,254.9L380.1,253.5L380.6,252.2L381.1,250.9L381.6,249.6L382.1,248.2L382.6,246.8L383.1,245.4L383.6,244.0L384.1,242.6L384.6,241.1L385.1,239.7L385.6,238.2L386.1,236.8L386.6,235.3L387.1,233.8L387.6,232.4L388.1,230.9L388.6,229.5L389.1,228.0L389.6,226.6L390.1,225.2L390.6,223.8L391.1,222.4L391.6,221.1L392.1,219.8L392.6,218.5L393.1,217.2L393.6,215.9L394.1,214.7L394.6,213.6L395.1,212.4L395.6,211.3L396.1,210.3L396.6,209.3L397.1,208.3L397.6,207.4L398.1,206.5L398.6,205.7L399.1,204.9L399.6,204.2L400.1,203.5L400.6,202.9L401.1,202.3L401.6,201.9L402.1,201.4L402.6,201.1L403.1,200.7L403.6,200.5L404.1,200.3L404.6,200.2L405.1,200.2L405.6,200.2L406.1,200.3L406.6,200.4L407.1,200.6L407.6,200.9L408.1,201.3L408.6,201.7L409.1,202.2L409.6,202.8L410.1,203.5L410.6,204.2L411.1,205.0L411.6,205.8L412.1,206.7L412.6,207.7L413.1,208.8L413.6,209.9L414.1,211.1L414.6,212.4L415.1,213.7L415.6,215.1L416.1,216.6L416.6,218.1L417.1,219.7L417.6,221.3L418.1,223.0L418.6,224.8L419.1,226.6L419.6,228.5L420.1,230.4L420.6,232.4L421.1,234.4L421.6,236.5L422.1,238.6L422.6,240.8L423.1,243.0L423.6,245.2L424.1,247.5L424.6,249.9L425.1,252.2L425.6,254.6L426.1,254.9L426.6,254.9L427.1,254.9L427.6,254.9L428.1,254.9L428.6,254.9L429.1,254.9L429.6,257.4L430.1,258.8L430.6,260.1L431.1,261.5L431.6,262.8L432.1,264.2L432.6,265.7L433.1,267.1L433.6,268.5L434.1,270.0L434.6,271.4L435.1,272.9L435.6,274.4L436.1,275.8L436.6,277.3L437.1,278.7L437.6,280.2L438.1,281.6L438.6,283.0L439.1,284.5L439.6,285.9L440.1,287.2L440.6,288.6L441.1,289.9L441.6,291.2L442.1,292.5L442.6,293.7L443.1,294.9L443.6,296.1L444.1,297.3L444.6,298.4L445.1,299.4L445.6,300.4L446.1,301.4L446.6,302.3L447.1,303.2L447.6,304.1L448.1,304.8L448.6,305.6L449.1,306.2L449.6,306.8L450.1,307.4L450.6,307.9L451.1,308.3L451.6,308.7L452.1,309.0L452.6,309.3L453.1,309.5L453.6,309.6L454.1,309.6L454.6,309.6L455.1,309.5L455.6,309.4L456.1,309.2L456.6,308.9L457.1,308.5L457.6,308.1L458.1,307.6L458.6,307.0L459.1,306.4L459.6,305.7L460.1,304.9L460.6,304.1L461.1,303.2L461.6,302.2L462.1,301.1L462.6,300.0L463.1,298.8L463.6,297.6L464.1,296.2L464.6,294.8L465.1,293.4L465.6,291.9L466.1,290.3L466.6,288.7L467.1,287.0L467.6,285.2L468.1,283.4L468.6,281.5L469.1,279.6L469.6,277.6L470.1,275.6L470.6,273.5L471.1,271.4L471.6,269.3L472.1,267.0L472.6,264.8L473.1,262.5L473.6,260.2L474.1,257.8L474.6,255.4L475.1,254.9L475.6,254.9L476.1,254.9L476.6,254.9L477.1,254.9L477.6,254.9L478.1,254.9L478.6,254.9L479.1,254.9L479.6,252.4L480.1,251.0L480.6,249.7L481.1,248.3L481.6,247.0L482.1,245.6L482.6,244.1L483.1,242.7L483.6,241.3L484.1,239.8L484.6,238.4L485.1,236.9L485.6,235.4L486.1,234.0L486.6,232.5L487.1,231.1L487.6,229.6L488.1,228.2L488.6,226.8L489.1,225.3L489.6,223.9L490.1,222.6L490.6,221.2L491.1,219.9L491.6,218.6L492.1,217.3L492.6,216.1L493.1,214.9L493.6,213.7L494.1,212.5L494.6,211.4L495.1,210.4L495.6,209.4L496.1,208.4L496.6,207.5L497.1,206.6L497.6,205.7L498.1,205.0L498.6,204.2L499.1,203.6L499.6,203.0L500.1,202.4L500.6,201.9L501.1,201.5L501.6,201.1L502.1,200.8L502.6,200.5L503.1,200.3L503.6,200.2L504.1,200.2L504.6,200.2L505.1,200.3L505.6,200.4L506.1,200.6L506.6,200.9L507.1,201.3L507.6,201.7L508.1,202.2L508.6,202.8L509.1,203.4L509.6,204.1L510.1,204.9L510.6,205.7L511.1,206.6L511.6,207.6L512.1,208.7L512.6,209.8L513.1,211.0L513.6,212.2L514.1,213.6L514.6,215.0L515.1,216.4L515.6,217.9L516.1,219.5L516.6,221.1L517.1,222.8L517.6,224.6L518.1,226.4L518.6,228.3L519.1,230.2L519.6,232.2L520.1,234.2L520.6,236.3L521.1,238.4L521.6,240.5L522.1,242.8L522.6,245.0L523.1,247.3L523.6,249.6L524.1,252.0L524.6,254.4L525.1,254.9L525.6,254.9L526.1,254.9L526.6,254.9L527.1,254.9L527.6,254.9L528.1,254.9L528.6,257.3L529.1,258.6L529.6,260.0L530.1,261.3L530.6,262.7L531.1,264.1L531.6,265.5L532.1,266.9L532.6,268.4L533.1,269.8L533.6,271.3L534.1,272.7L534.6,274.2L535.1,275.7L535.6,277.1L536.1,278.6L536.6,280.0L537.1,281.5L537.6,282.9L538.1,284.3L538.6,285.7L539.1,287.1L539.6,288.4L540.1,289.8L540.6,291.1L541.1,292.4L541.6,293.6L542.1,294.8L542.6,296.0L543.1,297.2L543.6,298.3L544.1,299.3L544.6,300.3L545.1,301.3L545.6,302.3L546.1,303.1L546.6,304.0L547.1,304.8L547.6,305.5L548.1,306.2L548.6,306.8L549.1,307.4L549.6,307.9L550.1,308.3L550.6,308.7L551.1,309.0L551.6,309.3L552.1,309.4L552.6,309.6L553.1,309.6L553.6,309.6L554.1,309.6L554.6,309.4L555.1,309.2L555.6,308.9L556.1,308.6L556.6,308.2L557.1,307.7L557.6,307.1L558.1,306.5L558.6,305.8L559.1,305.0L559.6,304.2L560.1,303.3L560.6,302.3L561.1,301.2L561.6,300.1L562.1,298.9L562.6,297.7L563.1,296.4L563.6,295.0L564.1,293.5L564.6,292.0L565.1,290.5L565.6,288.8L566.1,287.1L566.6,285.4L567.1,283.6L567.6,281.7L568.1,279.8L568.6,277.8L569.1,275.8L569.6,273.8L570.1,271.6L570.6,269.5L571.1,267.3L571.6,265.0L572.1,262.7L572.6,260.4L573.1,258.0L573.6,255.6L574.1,254.9L574.6,254.9L575.1,254.9L575.6,254.9L576.1,254.9L576.6,254.9L577.1,254.9L577.6,254.9L578.1,254.9L578.6,252.5L579.1,251.2" transform="translate(-0.5,-0.5)"/>
<use href="#w4" transform="translate(1.0,0.0)"/>
<use href="#w4" transform="translate(0.0,1.0)"/>
<use href="#w4" transform="translate(1.0,1.0)"/>
</g>
<g fill="none" stroke="#800080" stroke-width="1.1" stroke-linejoin="miter" stroke-linecap="square" shape-rendering="crispEdges">
<path id="w5" d="M83.6,280.6L84.1,280.3L84.6,279.7L85.1,279.1L85.6,278.6L86.1,278.0L86.6,277.4L87.1,276.8L87.6,276.2L88.1,275.6L88.6,275.0L89.1,274.4L89.6,273.9L90.1,273.3L90.6,272.7L91.1,272.1L91.6,271.5L92.1,270.9L92.6,270.3L93.1,269.7L93.6,269.2L94.1,268.6L94.6,268.0L95.1,267.4L95.6,266.8L96.1,266.2L96.6,265.6L97.1,265.0L97.6,264.5L98.1,263.9L98.6,263.3L99.1,262.7L99.6,262.1L100.1,261.5L100.6,260.9L101.1,260.3L101.6,259.7L102.1,259.2L102.6,258.6L103.1,258.0L103.6,257.4L104.1,256.8L104.6,256.2L105.1,255.6L105.6,255.0L106.1,254.5L106.6,253.9L107.1,253.3L107.6,252.7L108.1,252.1L108.6,251.5L109.1,250.9L109.6,250.3L110.1,249.8L110.6,249.2L111.1,248.6L111.6,248.0L112.1,247.4L112.6,246.8L113.1,246.2L113.6,245.6L114.1,245.1L114.6,244.5L115.1,243.9L115.6,243.3L116.1,242.7L116.6,242.1L117.1,241.5L117.6,240.9L118.1,240.4L118.6,239.8L119.1,239.2L119.6,238.6L120.1,238.0L120.6,237.4L121.1,236.8L121.6,236.2L122.1,235.7L122.6,235.1L123.1,234.5L123.6,233.9L124.1,233.3L124.6,232.7L125.1,232.1L125.6,231.5L126.1,231.0L126.6,230.4L127.1,229.8L127.6,229.2L128.1,228.6L128.6,228.1L129.1,228.1L129.6,228.1L130.1,228.1L130.6,228.1L131.1,228.1L131.6,228.1L132.1,228.2L132.6,228.8L133.1,229.4L133.6,230.0L134.1,230.6L134.6,231.2L135.1,231.8L135.6,232.4L136.1,233.0L136.6,233.5L137.1,234.1L137.6,234.7L138.1,235.3L138.6,235.9L139.1,236.5L139.6,237.1L140.1,237.7L140.6,238.2L141.1,238.8L141.6,239.4L142.1,240.0L142.6,240.6L143.1,241.2L143.6,241.8L144.1,242.4L144.6,242.9L145.1,243.5L145.6,244.1L146.1,244.7L146.6,245.3L147.1,245.9L147.6,246.5L148.1,247.1L148.6,247.6L149.1,248.2L149.6,248.8L150.1,249.4L150.6,250.0L151.1,250.6L151.6,251.2L152.1,251.8L152.6,252.3L153.1,252.9L153.6,253.5L154.1,254.1L154.6,254.7L155.1,255.3L155.6,255.9L156.1,256.5L156.6,257.0L157.1,257.6L157.6,258.2L158.1,258.8L158.6,259.4L159.1,260.0L159.6,260.6L160.1,261.2L160.6,261.7L161.1,262.3L161.6,262.9L162.1,263.5L162.6,264.1L163.1,264.7L163.6,265.3L164.1,265.9L164.6,266.4L165.1,267.0L165.6,267.6L166.1,268.2L166.6,268.8L167.1,269.4L167.6,270.0L168.1,270.6L168.6,271.1L169.1,271.7L169.6,272.3L170.1,272.9L170.6,273.5L171.1,274.1L171.6,274.7L172.1,275.3L172.6,275.8L173.1,276.4L173.6,277.0L174.1,277.6L174.6,278.2L175.1,278.8L175.6,279.4L176.1,280.0L176.6,280.5L177.1,280.6L177.6,280.6L178.1,280.6L178.6,280.6L179.1,280.6L179.6,280.6L180.1,280.6L180.6,280.6L181.1,280.6L181.6,280.6L182.1,280.6L182.6,280.6L183.1,280.4L183.6,279.8L184.1,279.2L184.6,278.6L185.1,278.0L185.6,277.4L186.1,276.8L186.6,276.3L187.1,275.7L187.6,275.1L188.1,274.5L188.6,273.9L189.1,273.3L189.6,272.7L190.1,272.1L190.6,271.6L191.1,271.0L191.6,270.4L192.1,269.8L192.6,269.2L193.1,268.6L193.6,268.0L194.1,267.4L194.6,266.9L195.1,266.3L195.6,265.7L196.1,265.1L196.6,264.5L197.1,263.9L197.6,263.3L198.1,262.7L198.6,262.2L199.1,261.6L199.6,261.0L200.1,260.4L200.6,259.8L201.1,259.2L201.6,258.6L202.1,258.0L202.6,257.5L203.1,256.9L203.6,256.3L204.1,255.7L204.6,255.1L205.1,254.5L205.6,253.9L206.1,253.3L206.6,252.8L207.1,252.2L207.6,251.6L208.1,251.0L208.6,250.4L209.1,249.8L209.6,249.2L210.1,248.6L210.6,248.1L211.1,247.5L211.6,246.9L212.1,246.3L212.6,245.7L213.1,245.1L213.6,244.5L214.1,243.9L214.6,243.4L215.1,242.8L215.6,242.2L216.1,241.6L216.6,241.0L217.1,240.4L217.6,239.8L218.1,239.2L218.6,238.7L219.1,238.1L219.6,237.5L220.1,236.9L220.6,236.3L221.1,235.7L221.6,235.1L222.1,234.5L222.6,234.0L223.1,233.4L223.6,232.8L224.1,232.2L224.6,231.6L225.1,231.0L225.6,230.4L226.1,229.8L226.6,229.3L227.1,228.7L227.6,228.1L228.1,228.1L228.6,228.1L229.1,228.1L229.6,228.1L230.1,228.1L230.6,228.1L231.1,228.2L231.6,228.8L232.1,229.4L232.6,230.0L233.1,230.5L233.6,231.1L234.1,231.7L234.6,232.3L235.1,232.9L235.6,233.5L236.1,234.1L236.6,234.7L237.1,235.2L237.6,235.8L238.1,236.4L238.6,237.0L239.1,237.6L239.6,238.2L240.1,238.8L240.6,239.4L241.1,239.9L241.6,240.5L242.1,241.1L242.6,241.7L243.1,242.3L243.6,242.9L244.1,243.5L244.6,244.1L245.1,244.6L245.6,245.2L246.1,245.8L246.6,246.4L247.1,247.0L247.6,247.6L248.1,248.2L248.6,248.8L249.1,249.3L249.6,249.9L250.1,250.5L250.6,251.1L251.1,251.7L251.6,252.3L252.1,252.9L252.6,253.5L253.1,254.0L253.6,254.6L254.1,255.2L254.6,255.8L255.1,256.4L255.6,257.0L256.1,257.6L256.6,258.2L257.1,258.7L257.6,259.3L258.1,259.9L258.6,260.5L259.1,261.1L259.6,261.7L260.1,262.3L260.6,262.9L261.1,263.4L261.6,264.0L262.1,264.6L262.6,265.2L263.1,265.8L263.6,266.4L264.1,267.0L264.6,267.6L265.1,268.1L265.6,268.7L266.1,269.3L266.6,269.9L267.1,270.5L267.6,271.1L268.1,271.7L268.6,272.3L269.1,272.9L269.6,273.4L270.1,274.0L270.6,274.6L271.1,275.2L271.6,275.8L272.1,276.4L272.6,277.0L273.1,277.6L273.6,278.1L274.1,278.7L274.6,279.3L275.1,279.9L275.6,280.5L276.1,280.6L276.6,280.6L277.1,280.6L277.6,280.6L278.1,280.6L278.6,280.6L279.1,280.6L279.6,280.6L280.1,280.6L280.6,280.6L281.1,280.6L281.6,280.6L282.1,280.4L282.6,279.8L283.1,279.3L283.6,278.7L284.1,278.1L284.6,277.5L285.1,276.9L285.6,276.3L286.1,275.7L286.6,275.1L287.1,274.6L287.6,274.0L288.1,273.4L288.6,272.8L289.1,272.2L289.6,271.6L290.1,271.0L290.6,270.4L291.1,269.9L291.6,269.3L292.1,268.7L292.6,268.1L293.1,267.5L293.6,266.9L294.1,266.3L294.6,265.7L295.1,265.2L295.6,264.6L296.1,264.0L296.6,263.4L297.1,262.8L297.6,262.2L298.1,261.6L298.6,261.0L299.1,260.5L299.6,259.9L300.1,259.3L300.6,258.7L301.1,258.1L301.6,257.5L302.1,256.9L302.6,256.3L303.1,255.8L303.6,255.2L304.1,254.6L304.6,254.0L305.1,253.4L305.6,252.8L306.1,252.2L306.6,251.6L307.1,251.1L307.6,250.5L308.1,249.9L308.6,249.3L309.1,248.7L309.6,248.1L310.1,247.5L310.6,246.9L311.1,246.4L311.6,245.8L312.1,245.2L312.6,244.6L313.1,244.0L313.6,243.4L314.1,242.8L314.6,242.2L315.1,241.7L315.6,241.1L316.1,240.5L316.6,239.9L317.1,239.3L317.6,238.7L318.1,238.1L318.6,237.5L319.1,236.9L319.6,236.4L320.1,235.8L320.6,235.2L321.1,234.6L321.6,234.0L322.1,233.4L322.6,232.8L323.1,232.2L323.6,231.7L324.1,231.1L324.6,230.5L325.1,229.9L325.6,229.3L326.1,228.7L326.6,228.1L327.1,228.1L327.6,228.1L328.1,228.1L328.6,228.1L329.1,228.1L329.6,228.1L330.1,228.1L330.6,228.7L331.1,229.3L331.6,229.9L332.1,230.5L332.6,231.1L333.1,231.7L333.6,232.2L334.1,232.8L334.6,233.4L335.1,234.0L335.6,234.6L336.1,235.2L336.6,235.8L337.1,236.4L337.6,236.9L338.1,237.5L338.6,238.1L339.1,238.7L339.6,239.3L340.1,239.9L340.6,240.5L341.1,241.1L341.6,241.6L342.1,242.2L342.6,242.8L343.1,243.4L343.6,244.0L344.1,244.6L344.6,245.2L345.1,245.8L345.6,246.3L346.1,246.9L346.6,247.5L347.1,248.1L347.6,248.7L348.1,249.3L348.6,249.9L349.1,250.5L349.6,251.0L350.1,251.6L350.6,252.2L351.1,252.8L351.6,253.4L352.1,254.0L352.6,254.6L353.1,255.2L353.6,255.8L354.1,256.3L354.6,256.9L355.1,257.5L355.6,258.1L356.1,258.7L356.6,259.3L357.1,259.9L357.6,260.5L358.1,261.0L358.6,261.6L359.1,262.2L359.6,262.8L360.1,263.4L360.6,264.0L361.1,264.6L361.6,265.2L362.1,265.7L362.6,266.3L363.1,266.9L363.6,267.5L364.1,268.1L364.6,268.7L365.1,269.3L365.6,269.9L366.1,270.4L366.6,271.0L367.1,271.6L367.6,272.2L368.1,272.8L368.6,273.4L369.1,274.0L369.6,274.6L370.1,275.1L370.6,275.7L371.1,276.3L371.6,276.9L372.1,277.5L372.6,278.1L373.1,278.7L373.6,279.3L374.1,279.8L374.6,280.4L375.1,280.6L375.6,280.6L376.1,280.6L376.6,280.6L377.1,280.6L377.6,280.6L378.1,280.6L378.6,280.6L379.1,280.6L379.6,280.6L380.1,280.6L380.6,280.6L381.1,280.5L381.6,279.9L382.1,279.3L382.6,278.7L383.1,278.1L383.6,277.6L384.1,277.0L384.6,276.4L385.1,275.8L385.6,275.2L386.1,274.6L386.6,274.0L387.1,273.4L387.6,272.9L388.1,272.3L388.6,271.7L389.1,271.1L389.6,270.5L390.1,269.9L390.6,269.3L391.1,268.7L391.6,268.2L392.1,267.6L392.6,267.0L393.1,266.4L393.6,265.8L394.1,265.2L394.6,264.6L395.1,264.0L395.6,263.5L396.1,262.9L396.6,262.3L397.1,261.7L397.6,261.1L398.1,260.5L398.6,259.9L399.1,259.3L399.6,258.8L400.1,258.2L400.6,257.6L401.1,257.0L401.6,256.4L402.1,255.8L402.6,255.2L403.1,254.6L403.6,254.0L404.1,253.5L404.6,252.9L405.1,252.3L405.6,251.7L406.1,251.1L406.6,250.5L407.1,249.9L407.6,249.3L408.1,248.8L408.6,248.2L409.1,247.6L409.6,247.0L410.1,246.4L410.6,245.8L411.1,245.2L411.6,244.6L412.1,244.1L412.6,243.5L413.1,242.9L413.6,242.3L414.1,241.7L414.6,241.1L415.1,240.5L415.6,239.9L416.1,239.4L416.6,238.8L417.1,238.2L417.6,237.6L418.1,237.0L418.6,236.4L419.1,235.8L419.6,235.2L420.1,234.7L420.6,234.1L421.1,233.5L421.6,232.9L422.1,232.3L422.6,231.7L423.1,231.1L423.6,230.5L424.1,230.0L424.6,229.4L425.1,228.8L425.6,228.2L426.1,228.1L426.6,228.1L427.1,228.1L427.6,228.1L428.1,228.1L428.6,228.1L429.1,228.1L429.6,228.7L430.1,229.2L430.6,229.8L431.1,230.4L431.6,231.0L432.1,231.6L432.6,232.2L433.1,232.8L433.6,233.4L434.1,233.9L434.6,234.5L435.1,235.1L435.6,235.7L436.1,236.3L436.6,236.9L437.1,237.5L437.6,238.1L438.1,238.7L438.6,239.2L439.1,239.8L439.6,240.4L440.1,241.0L440.6,241.6L441.1,242.2L441.6,242.8L442.1,243.4L442.6,243.9L443.1,244.5L443.6,245.1L444.1,245.7L444.6,246.3L445.1,246.9L445.6,247.5L446.1,248.1L446.6,248.6L447.1,249.2L447.6,249.8L448.1,250.4L448.6,251.0L449.1,251.6L449.6,252.2L450.1,252.8L450.6,253.3L451.1,253.9L451.6,254.5L452.1,255.1L452.6,255.7L453.1,256.3L453.6,256.9L454.1,257.5L454.6,258.0L455.1,258.6L455.6,259.2L456.1,259.8L456.6,260.4L457.1,261.0L457.6,261.6L458.1,262.2L458.6,262.7L459.1,263.3L459.6,263.9L460.1,264.5L460.6,265.1L461.1,265.7L461.6,266.3L462.1,266.9L462.6,267.4L463.1,268.0L463.6,268.6L464.1,269.2L464.6,269.8L465.1,270.4L465.6,271.0L466.1,271.6L466.6,272.1L467.1,272.7L467.6,273.3L468.1,273.9L468.6,274.5L469.1,275.1L469.6,275.7L470.1,276.3L470.6,276.8L471.1,277.4L471.6,278.0L472.1,278.6L472.6,279.2L473.1,279.8L473.6,280.4L474.1,280.6L474.6,280.6L475.1,280.6L475.6,280.6L476.1,280.6L476.6,280.6L477.1,280.6L477.6,280.6L478.1,280.6L478.6,280.6L479.1,280.6L479.6,280.6L480.1,280.6L480.6,280.0L481.1,279.4L481.6,278.8L482.1,278.2L482.6,277.6L483.1,277.0L483.6,276.4L484.1,275.9L484.6,275.3L485.1,274.7L485.6,274.1L486.1,273.5L486.6,272.9L487.1,272.3L487.6,271.7L488.1,271.1L488.6,270.6L489.1,270.0L489.6,269.4L490.1,268.8L490.6,268.2L491.1,267.6L491.6,267.0L492.1,266.4L492.6,265.9L493.1,265.3L493.6,264.7L494.1,264.1L494.6,263.5L495.1,262.9L495.6,262.3L496.1,261.7L496.6,261.2L497.1,260.6L497.6,260.0L498.1,259.4L498.6,258.8L499.1,258.2L499.6,257.6L500.1,257.0L500.6,256.5L501.1,255.9L501.6,255.3L502.1,254.7L502.6,254.1L503.1,253.5L503.6,252.9L504.1,252.3L504.6,251.8L505.1,251.2L505.6,250.6L506.1,250.0L506.6,249.4L507.1,248.8L507.6,248.2L508.1,247.6L508.6,247.1L509.1,246.5L509.6,245.9L510.1,245.3L510.6,244.7L511.1,244.1L511.6,243.5L512.1,242.9L512.6,242.4L513.1,241.8L513.6,241.2L514.1,240.6L514.6,240.0L515.1,239.4L515.6,238.8L516.1,238.2L516.6,237.7L517.1,237.1L517.6,236.5L518.1,235.9L518.6,235.3L519.1,234.7L519.6,234.1L520.1,233.5L520.6,233.0L521.1,232.4L521.6,231.8L522.1,231.2L522.6,230.6L523.1,230.0L523.6,229.4L524.1,228.8L524.6,228.3L525.1,228.1L525.6,228.1L526.1,228.1L526.6,228.1L527.1,228.1L527.6,228.1L528.1,228.1L528.6,228.6L529.1,229.2L529.6,229.8L530.1,230.4L530.6,231.0L531.1,231.5L531.6,232.1L532.1,232.7L532.6,233.3L533.1,233.9L533.6,234.5L534.1,235.1L534.6,235.7L535.1,236.2L535.6,236.8L536.1,237.4L536.6,238.0L537.1,238.6L537.6,239.2L538.1,239.8L538.6,240.4L539.1,240.9L539.6,241.5L540.1,242.1L540.6,242.7L541.1,243.3L541.6,243.9L542.1,244.5L542.6,245.1L543.1,245.6L543.6,246.2L544.1,246.8L544.6,247.4L545.1,248.0L545.6,248.6L546.1,249.2L546.6,249.8L547.1,250.3L547.6,250.9L548.1,251.5L548.6,252.1L549.1,252.7L549.6,253.3L550.1,253.9L550.6,254.5L551.1,255.0L551.6,255.6L552.1,256.2L552.6,256.8L553.1,257.4L553.6,258.0L554.1,258.6L554.6,259.2L555.1,259.7L555.6,260.3L556.1,260.9L556.6,261.5L557.1,262.1L557.6,262.7L558.1,263.3L558.6,263.9L559.1,264.4L559.6,265.0L560.1,265.6L560.6,266.2L561.1,266.8L561.6,267.4L562.1,268.0L562.6,268.6L563.1,269.1L563.6,269.7L564.1,270.3L564.6,270.9L565.1,271.5L565.6,272.1L566.1,272.7L566.6,273.3L567.1,273.8L567.6,274.4L568.1,275.0L568.6,275.6L569.1,276.2L569.6,276.8L570.1,277.4L570.6,278.0L571.1,278.6L571.6,279.1L572.1,279.7L572.6,280.3L573.1,280.6L573.6,280.6L574.1,280.6L574.6,280.6L575.1,280.6L575.6,280.6L576.1,280.6L576.6,280.6L577.1,280.6L577.6,280.6L578.1,280.6L578.6,280.6L579.1,280.6" transform="translate(-0.5,-0.5)"/>
<use href="#w5" transform="translate(1.0,0.0)"/>
<use href="#w5" transform="translate(0.0,1.0)"/>
<use href="#w5" transform="translate(1.0,1.0)"/>
</g>
<g fill="none" stroke="#0000ff" stroke-width="1.1" stroke-linejoin="miter" stroke-linecap="square" shape-rendering="crispEdges" clip-path="url(#c3)">
<path id="w6" d="M-16.6,499.3L-16.6,494.7L-15.8,494.7L-15.8,356.4L-2.8,356.4L-2.8,357.4L29.2,357.4L29.2,356.4L32.6,356.4L32.6,458.0L33.6,458.0L33.6,499.3L47.0,499.3L47.0,498.2L78.0,498.2L78.0,499.3L82.5,499.3L82.5,499.3L82.5,494.7L84.0,494.7L84.0,356.4L96.2,356.4L96.2,357.4L128.2,357.4L128.2,356.4L131.6,356.4L131.6,458.0L132.6,458.0L132.6,499.3L146.0,499.3L146.0,498.2L177.0,498.2L177.0,499.3L181.5,499.3L181.5,499.3L181.5,494.7L182.3,494.7L182.3,356.4L195.3,356.4L195.3,357.4L227.3,357.4L227.3,356.4L230.7,356.4L230.7,471.4L231.7,471.4L231.7,499.3L245.1,499.3L245.1,498.2L276.1,498.2L276.1,499.3L280.6,499.3L280.6,499.3L280.6,494.7L281.4,494.7L281.4,356.4L294.4,356.4L294.4,357.4L326.4,357.4L326.4,356.4L329.7,356.4L329.7,483.6L330.7,483.6L330.7,499.3L344.1,499.3L344.1,498.2L375.1,498.2L375.1,499.3L379.6,499.3L379.6,499.3L379.6,494.7L380.4,494.7L380.4,356.4L393.4,356.4L393.4,357.4L425.4,357.4L425.4,356.4L428.8,356.4L428.8,426.0L429.8,426.0L429.8,499.3L443.1,499.3L443.1,498.2L474.1,498.2L474.1,499.3L478.6,499.3L478.6,499.3L478.6,494.7L479.4,494.7L479.4,356.4L492.4,356.4L492.4,357.4L524.4,357.4L524.4,356.4L527.8,356.4L527.8,441.0L528.8,441.0L528.8,499.3L542.2,499.3L542.2,498.2L573.2,498.2L573.2,499.3L577.7,499.3L577.7,499.3L577.7,494.7L578.5,494.7L578.5,356.4L591.5,356.4L591.5,357.4L623.5,357.4L623.5,356.4L626.9,356.4L626.9,458.0L627.9,458.0L627.9,499.3L641.2,499.3L641.2,498.2L672.2,498.2L672.2,499.3L676.8,499.3" transform="translate(-0.5,-0.5)"/>
<use href="#w6" transform="translate(1.0,0.0)"/>
<use href="#w6" transform="translate(0.0,1.0)"/>
<use href="#w6" transform="translate(1.0,1.0)"/>
</g>
<rect x="83" y="358" width="2" height="142" fill="#000"/>
<text transform="translate(84,512) scale(0.875,1)" text-anchor="middle">0</text>
<text transform="translate(161.5,512) scale(0.875,1)" text-anchor="middle">10</text>
<text transform="translate(239.5,512) scale(0.875,1)" text-anchor="middle">20</text>
<text transform="translate(316.5,512) scale(0.875,1)" text-anchor="middle">30</text>
<text transform="translate(394.5,512) scale(0.875,1)" text-anchor="middle">40</text>
<text transform="translate(471.5,512) scale(0.875,1)" text-anchor="middle">50</text>
<text transform="translate(549.5,512) scale(0.875,1)" text-anchor="middle">60</text>
<text transform="translate(83.8,543.0) scale(0.95,1)" text-anchor="start">time/uSecs</text>
<text transform="translate(578.6,543.0) scale(0.913,1)" text-anchor="end">10uSecs/div</text>
<text transform="translate(29,106.3) rotate(-90) scale(0.955,1)" text-anchor="middle">A</text>
<text transform="translate(29,267.4) rotate(-90) scale(0.955,1)" text-anchor="middle">A</text>
<text transform="translate(29.2,427.8) rotate(-90) scale(0.99,1)" text-anchor="middle">DVM VSW / V</text>
</svg>
</body></html>
